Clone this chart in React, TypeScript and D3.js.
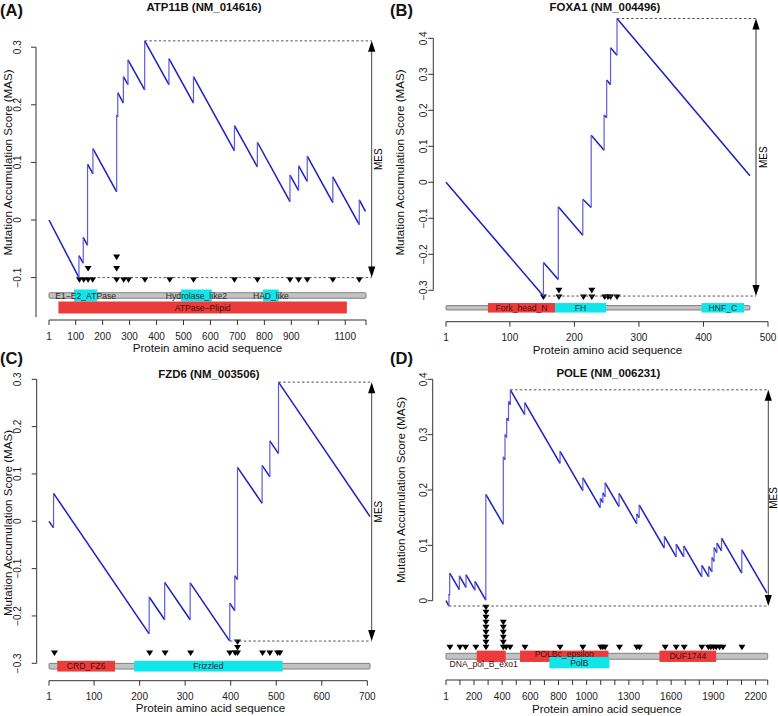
import React from "react";
import * as d3 from "d3";

type Step = [number, number, number]; // position, score before jump, score after jump
type Mut = [number, number]; // position, number of mutations
type Domain = { name: string; start: number; end: number; kind: "pfam" | "cdd" };

const FONT = "'Liberation Sans', Arial, Helvetica, sans-serif";

// ---------- (A) ATP11B ----------
const atp11bSteps: Step[] = [
  [1, 0, 0], [112, -0.1, -0.062], [128, -0.075, -0.03], [144, -0.044, 0.097],
  [164, 0.08, 0.124], [252, 0.049, 0.182], [256, 0.179, 0.221], [277, 0.203, 0.249],
  [294, 0.235, 0.278], [356, 0.226, 0.311], [446, 0.235, 0.28], [537, 0.203, 0.249],
  [689, 0.12, 0.164], [774, 0.092, 0.135], [895, 0.032, 0.078], [927, 0.051, 0.094],
  [959, 0.067, 0.111], [1054, 0.03, 0.075], [1152, -0.008, 0.035], [1175, 0.015, 0.015],
];
const atp11bMutations: Mut[] = [
  [114, 1], [130, 1], [146, 2], [163, 1], [252, 3], [278, 1], [296, 1], [357, 1],
  [449, 1], [537, 1], [689, 1], [774, 1], [895, 1], [927, 1], [959, 1], [1054, 1], [1152, 1],
];
const atp11bDomains: Domain[] = [
  { name: "E1\u2212E2_ATPase", start: 94, end: 180, kind: "cdd" },
  { name: "Hydrolase_like2", start: 491, end: 605, kind: "cdd" },
  { name: "HAD_like", start: 795, end: 853, kind: "cdd" },
  { name: "ATPase\u2212Plipid", start: 36, end: 1106, kind: "pfam" },
];
const atp11bXTicks = [1, 100, 200, 300, 400, 500, 600, 700, 800, 900, 1000, 1100, 1177];
const atp11bXLabels = ["1", "100", "200", "300", "400", "500", "600", "700", "800", "900", "", "1100", ""];
const atp11bYTicks = [-0.1, 0, 0.1, 0.2, 0.3];

// ---------- (B) FOXA1 ----------
const foxa1Steps: Step[] = [
  [1, 0, 0], [152, -0.316, -0.223], [175, -0.27, -0.068], [213, -0.147, -0.047],
  [226, -0.07, 0.131], [246, 0.089, 0.187], [250, 0.179, 0.284], [256, 0.271, 0.374],
  [266, 0.353, 0.455], [472, 0.018, 0.018],
];
const foxa1Mutations: Mut[] = [
  [152, 1], [176, 2], [214, 1], [227, 2], [247, 1], [252, 1], [256, 1], [266, 1],
];
const foxa1Domains: Domain[] = [
  { name: "Fork_head_N", start: 66, end: 170, kind: "pfam" },
  { name: "FH", start: 170, end: 249, kind: "cdd" },
  { name: "HNF_C", start: 397, end: 463, kind: "cdd" },
];
const foxa1XTicks = [1, 100, 200, 300, 400, 500];
const foxa1XLabels = ["1", "100", "200", "300", "400", "500"];
const foxa1YTicks = [-0.3, -0.2, -0.1, 0, 0.1, 0.2, 0.3, 0.4];

// ---------- (C) FZD6 ----------
const fzd6Steps: Step[] = [
  [1, 0, 0], [11, -0.014, 0.059], [221, -0.238, -0.16], [255, -0.208, -0.129],
  [311, -0.208, -0.13], [398, -0.253, -0.173], [409, -0.189, -0.115], [415, -0.123, 0.114],
  [469, 0.038, 0.118], [486, 0.094, 0.17], [505, 0.143, 0.294], [706, 0.01, 0.01],
];
const fzd6Mutations: Mut[] = [
  [13, 1], [222, 1], [256, 1], [312, 1], [398, 1], [410, 1], [415, 3], [470, 1],
  [486, 1], [503, 1], [508, 1],
];
const fzd6Domains: Domain[] = [
  { name: "CRD_FZ6", start: 19, end: 146, kind: "pfam" },
  { name: "Frizzled", start: 188, end: 514, kind: "cdd" },
];
const fzd6XTicks = [1, 100, 200, 300, 400, 500, 600, 700];
const fzd6XLabels = ["1", "100", "200", "300", "400", "500", "600", "700"];
const fzd6YTicks = [-0.3, -0.2, -0.1, 0, 0.1, 0.2, 0.3];

// ---------- (D) POLE ----------
const poleSteps: Step[] = [
  [1, 0, 0], [22, -0.0096, 0.012], [27, 0.01, 0.05], [96, 0.02, 0.045], [143, 0.024, 0.047],
  [207, 0.019, 0.035], [284, 0.001, 0.192], [408, 0.138, 0.26], [420, 0.255, 0.3],
  [432, 0.295, 0.33], [445, 0.325, 0.36], [458, 0.354, 0.381], [560, 0.336, 0.358],
  [811, 0.248, 0.27], [973, 0.199, 0.222], [1097, 0.168, 0.185], [1115, 0.177, 0.195],
  [1131, 0.188, 0.213], [1230, 0.17, 0.194], [1356, 0.139, 0.157], [1373, 0.15, 0.173],
  [1552, 0.095, 0.116], [1636, 0.079, 0.102], [1690, 0.079, 0.099], [1818, 0.043, 0.064],
  [1867, 0.043, 0.062], [1890, 0.052, 0.078], [1905, 0.071, 0.096], [1925, 0.087, 0.104],
  [1958, 0.09, 0.113], [2102, 0.05, 0.092], [2280, 0.014, 0.014],
];
const poleMutations: Mut[] = [
  [29, 1], [100, 1], [140, 1], [213, 1], [285, 9], [408, 6], [428, 1], [456, 1], [562, 1],
  [811, 1], [973, 1], [1100, 1], [1115, 1], [1131, 1], [1233, 1], [1356, 1], [1375, 1],
  [1558, 1], [1636, 1], [1693, 1], [1818, 1], [1865, 1], [1882, 1], [1901, 1], [1920, 1],
  [1944, 1], [1968, 1], [2103, 1],
];
const poleDomains: Domain[] = [
  { name: "DNA_pol_B_exo1", start: 219, end: 425, kind: "pfam" },
  { name: "POLBc_epsilon", start: 527, end: 1155, kind: "pfam" },
  { name: "PolB", start: 735, end: 1162, kind: "cdd" },
  { name: "DUF1744", start: 1517, end: 1920, kind: "pfam" },
];
const poleXTicks = [1, 100, 200, 300, 400, 500, 600, 700, 800, 900, 1000, 1100, 1200, 1300,
  1400, 1500, 1600, 1700, 1800, 1900, 2000, 2100, 2200, 2286];
const poleXLabels = ["1", "", "200", "", "400", "", "600", "", "800", "", "1000", "", "", "1300",
  "", "", "1600", "", "", "1900", "", "", "2200", ""];
const poleYTicks = [0, 0.1, 0.2, 0.3, 0.4];

const panels = [
  { tag: "(A)", title: "ATP11B (NM_014616)", length: 1177, steps: atp11bSteps, mutations: atp11bMutations,
    domains: atp11bDomains, xTicks: atp11bXTicks, xLabels: atp11bXLabels, yTicks: atp11bYTicks },
  { tag: "(B)", title: "FOXA1 (NM_004496)", length: 472, steps: foxa1Steps, mutations: foxa1Mutations,
    domains: foxa1Domains, xTicks: foxa1XTicks, xLabels: foxa1XLabels, yTicks: foxa1YTicks },
  { tag: "(C)", title: "FZD6 (NM_003506)", length: 706, steps: fzd6Steps, mutations: fzd6Mutations,
    domains: fzd6Domains, xTicks: fzd6XTicks, xLabels: fzd6XLabels, yTicks: fzd6YTicks },
  { tag: "(D)", title: "POLE (NM_006231)", length: 2286, steps: poleSteps, mutations: poleMutations,
    domains: poleDomains, xTicks: poleXTicks, xLabels: poleXLabels, yTicks: poleYTicks },
];

// pixel layout of every panel
const layouts = [
  { xDomain: [1, 1177], xRange: [49, 366], yDomain: [-0.1, 0.3], yRange: [277.6, 47.2],
    tagX: 0, tagY: 16, titleX: 204, titleY: 10.5, yAxisX: 36, yAxisBottom: 317, yLabX: 20.5,
    yTitleX: 11.5, yTitleY: 162.5, xAxisY: 320, xLabY: 339.5, xTitleX: 207.5, xTitleY: 352,
    arrowX: 371.7, mesDx: 10.5, arrowColor: "#444", barY: 295.5, barH: 5.6, boxH: 12, laneGap: 12,
    rowY: 280, stackGap: 11.3, labelShift: {} as Record<string, [number, number]> },
  { xDomain: [1, 500], xRange: [446, 768], yDomain: [-0.3, 0.4], yRange: [290.3, 38.3],
    tagX: 390, tagY: 15.5, titleX: 605, titleY: 10.5, yAxisX: 433.3, yAxisBottom: 290.3, yLabX: 427,
    yTitleX: 404, yTitleY: 162.5, xAxisY: 321.7, xLabY: 340.5, xTitleX: 607.5, xTitleY: 353.5,
    arrowX: 756, mesDx: 11, arrowColor: "#8a8a8a", barY: 307.8, barH: 4.5, boxH: 9.5, laneGap: 10,
    rowY: 297.3, stackGap: 6.7, labelShift: {} as Record<string, [number, number]> },
  { xDomain: [1, 700], xRange: [49, 367.3], yDomain: [-0.3, 0.3], yRange: [663.3, 379.3],
    tagX: 0, tagY: 364, titleX: 209, titleY: 378, yAxisX: 36.7, yAxisBottom: 663.3, yLabX: 20.5,
    yTitleX: 11.5, yTitleY: 523, xAxisY: 680.7, xLabY: 699.5, xTitleX: 210.5, xTitleY: 711.5,
    arrowX: 371.7, mesDx: 10.5, arrowColor: "#444", barY: 666.2, barH: 5.7, boxH: 10.7, laneGap: 10,
    rowY: 653.3, stackGap: 5.5, labelShift: {} as Record<string, [number, number]> },
  { xDomain: [1, 2200], xRange: [446, 755.6], yDomain: [0, 0.4], yRange: [600.7, 379.3],
    tagX: 390, tagY: 364, titleX: 608.3, titleY: 377, yAxisX: 432.7, yAxisBottom: 600.7, yLabX: 427,
    yTitleX: 404.5, yTitleY: 490, xAxisY: 680, xLabY: 699.5, xTitleX: 606.7, xTitleY: 712.5,
    arrowX: 768.3, mesDx: 8.5, arrowColor: "#444", barY: 656.3, barH: 6, boxH: 11.3, laneGap: 6.3,
    rowY: 647.5, stackGap: 5,
    labelShift: { DNA_pol_B_exo1: [-7.5, 7.5], POLBc_epsilon: [0, -2.8] } as Record<string, [number, number]> },
];

const fmt = (v: number) => (v < 0 ? "\u2212" + String(-v) : String(v));

function Panel({ p, l }: { p: (typeof panels)[number]; l: (typeof layouts)[number] }) {
  const x = d3.scaleLinear().domain(l.xDomain).range(l.xRange);
  const y = d3.scaleLinear().domain(l.yDomain).range(l.yRange);
  const line = d3.line<[number, number]>().x((d) => x(d[0])).y((d) => y(d[1]));

  const diagonals: [number, number][][] = [];
  const jumps: [number, number][][] = [];
  p.steps.forEach((s, i) => {
    if (i > 0 && s[2] !== s[1]) jumps.push([[s[0], s[1]], [s[0], s[2]]]);
    const next = p.steps[i + 1];
    if (next) diagonals.push([[s[0], s[2]], [next[0], next[1]]]);
  });

  const top = p.steps.reduce((a, b) => (b[2] > a[2] ? b : a));
  const bottom = p.steps.reduce((a, b) => (b[1] < a[1] ? b : a));
  const yTop = y(top[2]);
  const yBot = y(bottom[1]);
  const ax = l.arrowX;

  // lanes for overlapping domains
  const lanes: Domain[][] = [];
  const placed = p.domains.map((d) => {
    let lane = lanes.findIndex((ds) => ds.every((o) => d.start >= o.end || d.end <= o.start));
    if (lane < 0) { lanes.push([]); lane = lanes.length - 1; }
    lanes[lane].push(d);
    return { d, lane };
  });

  const tri = (cx: number, cy: number) => {
    const w = 7, h = 5.6;
    return `M${cx - w / 2},${cy - h / 2}L${cx + w / 2},${cy - h / 2}L${cx},${cy + h / 2}Z`;
  };

  return (
    <g fontFamily={FONT}>
      {/* protein bar and domains */}
      <rect x={x(1)} y={l.barY - l.barH / 2} width={x(p.length) - x(1)} height={l.barH}
        fill="#c2c2c2" stroke="#6a6a6a" strokeWidth={0.8} rx={1} />
      {placed.map(({ d, lane }) => {
        const cy = l.barY + lane * l.laneGap;
        return (
          <rect key={d.name} x={x(d.start)} y={cy - l.boxH / 2} width={x(d.end) - x(d.start)}
            height={l.boxH} fill={d.kind === "pfam" ? "#ec3b3b" : "#10e6ea"} />
        );
      })}
      {placed.map(({ d, lane }) => {
        const cy = l.barY + lane * l.laneGap;
        const sh = l.labelShift[d.name] || [0, 0];
        return (
          <text key={d.name} x={(x(d.start) + x(d.end)) / 2 + sh[0]} y={cy + sh[1]}
            dominantBaseline="central" textAnchor="middle" fontSize={8.6}
            fill={d.kind === "pfam" ? "#3a1212" : "#1d2a2c"}>
            {d.name}
          </text>
        );
      })}

      {/* mutation markers */}
      {p.mutations.map(([pos, n]) =>
        d3.range(n).map((k) => (
          <path key={`${pos}-${k}`} d={tri(x(pos), l.rowY - k * l.stackGap)} fill="#000" />
        ))
      )}

      {/* reference lines */}
      <line x1={x(top[0])} x2={ax} y1={yTop} y2={yTop} stroke="#555" strokeDasharray="2.5,2.2" strokeWidth={1} />
      <line x1={x(bottom[0])} x2={ax} y1={yBot} y2={yBot} stroke="#555" strokeDasharray="2.5,2.2" strokeWidth={1} />

      {/* MAS curve */}
      {diagonals.map((seg, i) => (
        <path key={`d${i}`} d={line(seg) || ""} stroke="#1d1dc2" strokeWidth={1.5} fill="none" />
      ))}
      {jumps.map((seg, i) => (
        <path key={`j${i}`} d={line(seg) || ""} stroke="#5c5ce0" strokeWidth={1.2} fill="none" />
      ))}

      {/* MES arrow */}
      <line x1={ax} x2={ax} y1={yTop + 8} y2={yBot - 8} stroke={l.arrowColor} strokeWidth={l.arrowColor === "#444" ? 1 : 1.8} />
      <path d={`M${ax},${yTop}L${ax - 3.6},${yTop + 11}L${ax + 3.6},${yTop + 11}Z`} fill="#000" />
      <path d={`M${ax},${yBot}L${ax - 3.6},${yBot - 11}L${ax + 3.6},${yBot - 11}Z`} fill="#000" />
      <text transform={`translate(${ax + l.mesDx},${(yTop + yBot) / 2}) rotate(-90)`} textAnchor="middle" fontSize={10}>
        MES
      </text>

      {/* y axis */}
      <line x1={l.yAxisX} x2={l.yAxisX} y1={y(p.yTicks[p.yTicks.length - 1])} y2={l.yAxisBottom} stroke="#333" strokeWidth={1} />
      {p.yTicks.map((t) => (
        <g key={t}>
          <line x1={l.yAxisX - 5} x2={l.yAxisX} y1={y(t)} y2={y(t)} stroke="#333" strokeWidth={1} />
          <text transform={`translate(${l.yLabX},${y(t)}) rotate(-90)`} textAnchor="middle" fontSize={10} fill="#222">
            {fmt(t)}
          </text>
        </g>
      ))}
      <text transform={`translate(${l.yTitleX},${l.yTitleY}) rotate(-90)`} textAnchor="middle" fontSize={11.6} fill="#111">
        Mutation Accumulation Score (MAS)
      </text>

      {/* x axis */}
      <line x1={x(p.xTicks[0])} x2={x(p.xTicks[p.xTicks.length - 1])} y1={l.xAxisY} y2={l.xAxisY} stroke="#333" strokeWidth={1} />
      {p.xTicks.map((t, i) => (
        <g key={t + "-" + i}>
          <line x1={x(t)} x2={x(t)} y1={l.xAxisY} y2={l.xAxisY + 5} stroke="#333" strokeWidth={1} />
          {p.xLabels[i] && (
            <text x={x(t)} y={l.xLabY} textAnchor="middle" fontSize={10} fill="#222">
              {p.xLabels[i]}
            </text>
          )}
        </g>
      ))}
      <text x={l.xTitleX} y={l.xTitleY} textAnchor="middle" fontSize={11.6} fill="#111">
        Protein amino acid sequence
      </text>

      {/* titles */}
      <text x={l.titleX} y={l.titleY} textAnchor="middle" fontSize={11.4} fontWeight="bold" fill="#111">
        {p.title}
      </text>
      <text x={l.tagX} y={l.tagY} fontSize={16.5} fontWeight="bold" fill="#111">
        {p.tag}
      </text>
    </g>
  );
}

export default function App() {
  return (
    <svg width={778} height={716} style={{ position: "absolute", left: 0, top: 0, background: "#fff" }}>
      <rect width={778} height={716} fill="#fff" />
      {panels.map((p, i) => (
        <Panel key={p.tag} p={p} l={layouts[i]} />
      ))}
    </svg>
  );
}
